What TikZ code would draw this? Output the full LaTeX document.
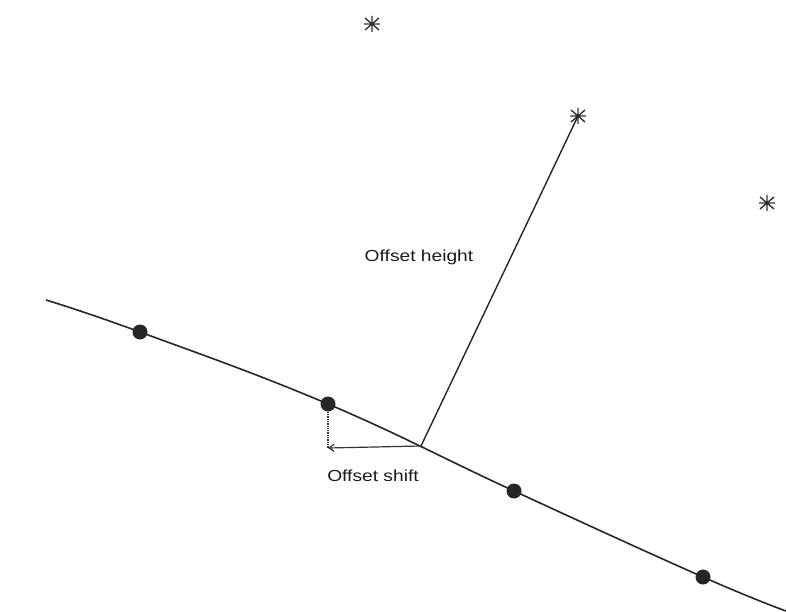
\documentclass[tikz,border=0pt]{standalone}
\usepackage{fontspec}
\setmainfont[FakeStretch=1.2]{Liberation Sans}
\usetikzlibrary{arrows.meta}
\begin{document}
\begin{tikzpicture}[x=1pt,y=-1pt,
  curveline/.style={line width=1.6pt,draw=black!85},
  dotnode/.style={circle,fill=black!85,inner sep=0pt,minimum size=15pt},
  lbl/.style={font=\fontsize{16}{18}\selectfont,text=black!90},
  starline/.style={line width=1.4pt,draw=black!80}]
\useasboundingbox (0,0) rectangle (786,612);
% curve
\node[dotnode] (d1) at (140,332) {};
\node[dotnode] (d2) at (328,404) {};
\coordinate (p) at (421,446);
\node[dotnode] (d3) at (514,491) {};
\node[dotnode] (d4) at (703,577) {};
\draw[curveline] plot[smooth,tension=0.7] coordinates {(46,300) (140,332) (328,404) (514,491) (703,577) (786,611)};
% stars
\newcommand{\mystar}[1]{%
  \draw[starline,shift={(#1)}] (0,-8) -- (0,8)
    (-7,-6) -- (7,6) (-7,6) -- (7,-6)
    (-8,0) -- (8,0);}
\coordinate (s1) at (372,24);
\coordinate (s2) at (578,116);
\coordinate (s3) at (767,203);
\mystar{s1}\mystar{s2}\mystar{s3}
% offset height line
\draw[line width=1.4pt,draw=black!85] (s2) -- (p);
% offset shift arrow
\coordinate (q) at (328,448);
\draw[line width=1.2pt,draw=black!80,-{Straight Barb[length=5pt,width=7pt]}] (p) -- (q);
\draw[line width=1.3pt,draw=black!80,densely dotted] (d2.south) -- (q);
% labels
\node[lbl] (lh) at (419,257) {Offset height};
\node[lbl] (ls) at (373,476) {Offset shift};
\end{tikzpicture}
\end{document}
